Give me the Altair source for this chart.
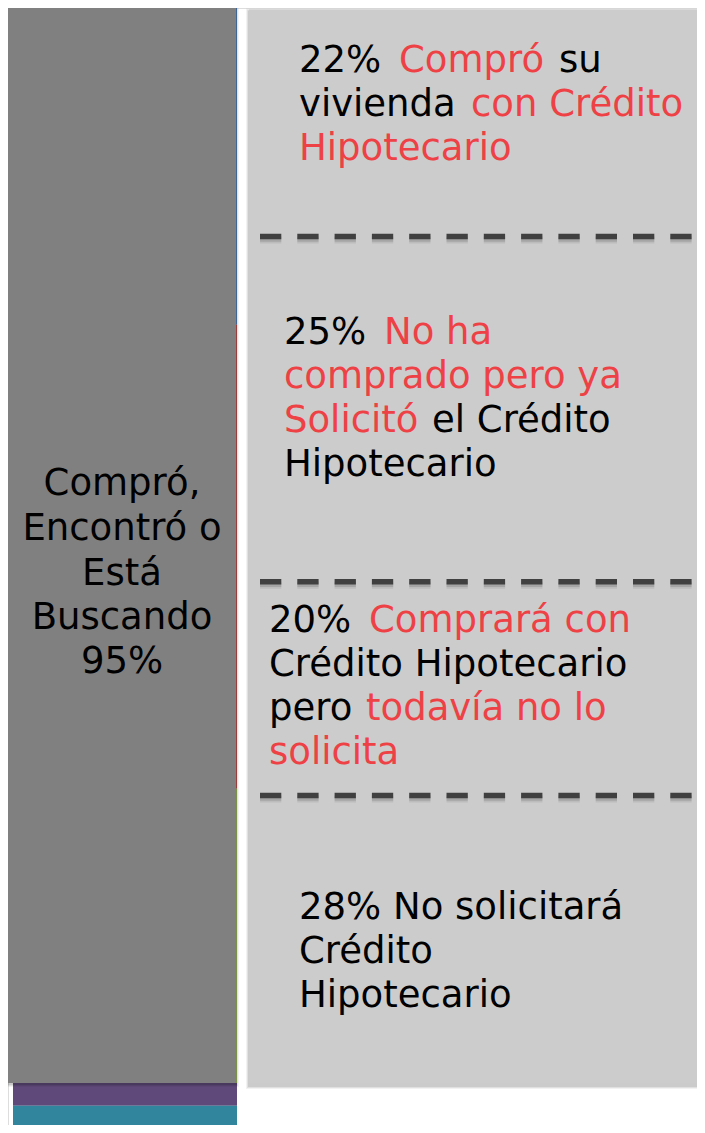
import altair as alt
import pandas as pd

# ---- data ----
seg_names = ["s1", "s2", "s3", "s4", "s5"]
seg_share = [28, 41, 26, 2, 3]
seg_colors = ["#4f81bd", "#c0504d", "#9bbb59", "#5f497a", "#31859c"]

callout_share = 95
callout_lines = ["Compró,", "Encontró o", "Está", "Buscando", "95%"]

panel_pct = [22, 25, 20, 28]
divider_at = [20.2, 50.7, 69.6]

RED = "#ee4146"
BLK = "#000000"

block_runs = [
    [[("22%", BLK), ("Compró", RED), ("su", BLK)],
     [("vivienda", BLK), ("con Crédito", RED)],
     [("Hipotecario", RED)]],
    [[("25%", BLK), ("No ha", RED)],
     [("comprado pero ya", RED)],
     [("Solicitó", RED), ("el Crédito", BLK)],
     [("Hipotecario", BLK)]],
    [[("20%", BLK), ("Comprará con", RED)],
     [("Crédito Hipotecario", BLK)],
     [("pero", BLK), ("todavía no lo", RED)],
     [("solicita", RED)]],
    [[("28% No solicitará", BLK)],
     [("Crédito", BLK)],
     [("Hipotecario", BLK)]],
]

# ---- layout (pixels inside the plot area) ----
W, H = 689, 1117
FONT = "DejaVu Sans"
FS = 37
PX_PER_UNIT = 1075 / 95.0
ys_domain = [0, H / PX_PER_UNIT]

block_layout = [
    ([64, 108, 152], [[291, 391, 551], [291, 463], [291]]),
    ([336, 380, 424, 468], [[276, 376], [276], [276, 424], [276]]),
    ([624, 668, 712, 756], [[261, 361], [261], [261, 358], [261]]),
    ([911, 955, 999], [[291], [291], [291]]),
]
callout_baselines = [487, 532, 577, 621, 665]


def ys():
    return alt.Scale(domain=ys_domain, reverse=True, nice=False, zero=False)


# stacked underlying bar
seg_df = pd.DataFrame({"seg": seg_names, "share": seg_share})
seg_df["end"] = seg_df["share"].cumsum()
seg_df["start"] = seg_df["end"] - seg_df["share"]

callout_df = pd.DataFrame({"start": [0], "end": [callout_share]})
panel_df = pd.DataFrame({"start": [0], "end": [sum(panel_pct)]})
div_df = pd.DataFrame({"at": divider_at})

layers = []

# panel soft shadow
for k, a in [(3, 0.05), (2, 0.07), (1, 0.09)]:
    layers.append(
        alt.Chart(panel_df).mark_rect(color="#000000", opacity=a, yOffset=1.5 - k + 2, y2Offset=k + 3)
        .encode(x=alt.value(241 - k), x2=alt.value(W + 5),
                y=alt.Y("start:Q", scale=ys(), axis=None), y2="end:Q")
    )

# underlying stacked bar
layers.append(
    alt.Chart(seg_df).mark_rect(clip=True)
    .encode(x=alt.value(5), x2=alt.value(229),
            y=alt.Y("start:Q", scale=ys(), axis=None), y2="end:Q",
            color=alt.Color("seg:N", scale=alt.Scale(domain=seg_names, range=seg_colors), legend=None))
)

# callout shadow
for k, a in [(3, 0.05), (2, 0.07), (1, 0.10)]:
    layers.append(
        alt.Chart(callout_df).mark_rect(color="#000000", opacity=a, yOffset=-k + 1, y2Offset=k + 1)
        .encode(x=alt.value(0 - k), x2=alt.value(228 + k),
                y=alt.Y("start:Q", scale=ys(), axis=None), y2="end:Q")
    )

# gray callout
layers.append(
    alt.Chart(callout_df).mark_rect(color="#808080")
    .encode(x=alt.value(0), x2=alt.value(228),
            y=alt.Y("start:Q", scale=ys(), axis=None), y2="end:Q")
)

# right panel
layers.append(
    alt.Chart(panel_df).mark_rect(color="#cccccc", yOffset=1.5)
    .encode(x=alt.value(241), x2=alt.value(W),
            y=alt.Y("start:Q", scale=ys(), axis=None), y2="end:Q")
)

# dashed dividers (with faint shadow)
for off, a, sw in [(4, 0.08, 6), (2.5, 0.12, 5.5)]:
    layers.append(
        alt.Chart(div_df).mark_rule(strokeDash=[21.3, 16], strokeWidth=sw, color="#000000",
                                    opacity=a, strokeCap="butt", yOffset=off)
        .encode(x=alt.value(252), x2=alt.value(684),
                y=alt.Y("at:Q", scale=ys(), axis=None))
    )
layers.append(
    alt.Chart(div_df).mark_rule(strokeDash=[21.3, 16], strokeWidth=5.5, color="#404040",
                                strokeCap="butt")
    .encode(x=alt.value(252), x2=alt.value(684),
            y=alt.Y("at:Q", scale=ys(), axis=None))
)

# panel text runs
rows = []
for runs_block, (baselines, xs_block) in zip(block_runs, block_layout):
    for line_runs, yb, xs_line in zip(runs_block, baselines, xs_block):
        for (txt, col), xx in zip(line_runs, xs_line):
            rows.append({"text": txt, "color": col, "x": xx, "y": yb})
text_df = pd.DataFrame(rows)

layers.append(
    alt.Chart(text_df).mark_text(font=FONT, fontSize=FS, align="left", baseline="alphabetic")
    .encode(x=alt.X("x:Q", scale=None, axis=None), y=alt.Y("y:Q", scale=None, axis=None),
            text="text:N", color=alt.Color("color:N", scale=None))
)

# callout text
call_df = pd.DataFrame({"text": callout_lines, "y": callout_baselines})
layers.append(
    alt.Chart(call_df).mark_text(font=FONT, fontSize=FS, align="center", baseline="alphabetic",
                                 color="#000000")
    .encode(x=alt.value(114), y=alt.Y("y:Q", scale=None, axis=None), text="text:N")
)

chart = (
    alt.layer(*layers)
    .resolve_scale(y="independent", x="independent", color="independent")
    .properties(width=W, height=H, padding=0, autosize=alt.AutoSizeParams(type="none"))
    .configure_view(strokeWidth=0)
    .configure(background="#ffffff")
)

chart.save("out.html", embed_options={"renderer": "svg", "actions": False})
